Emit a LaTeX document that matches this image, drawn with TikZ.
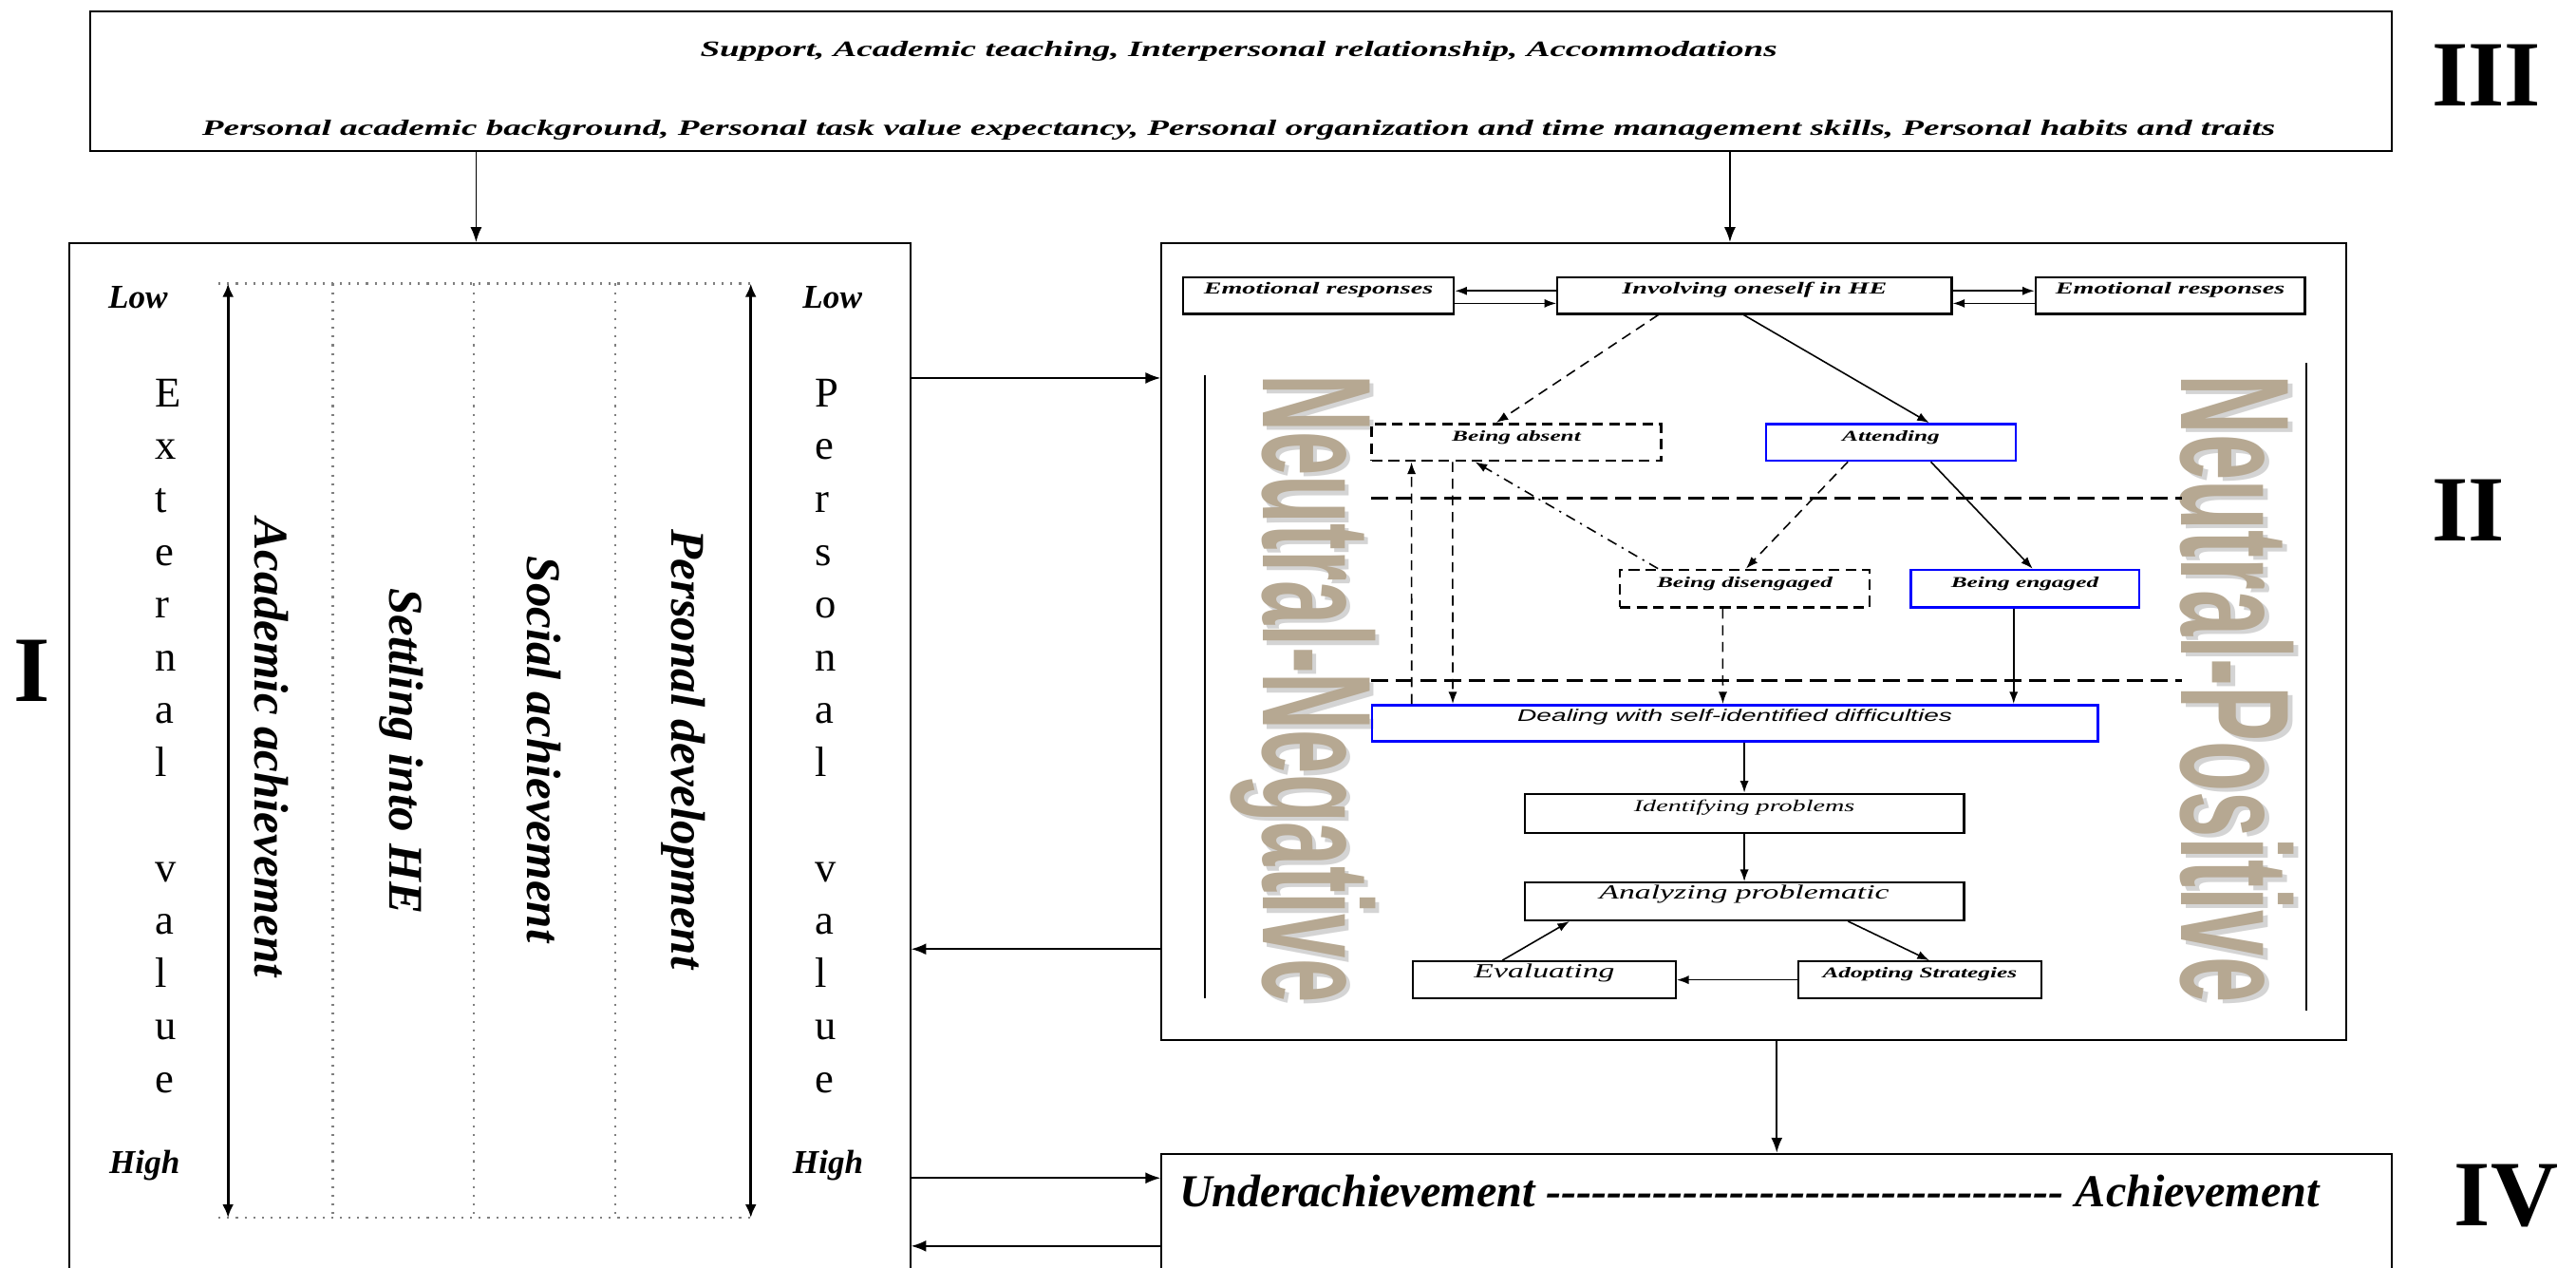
\documentclass[tikz,border=0pt]{standalone}
\usepackage{fontspec}
\setmainfont{Liberation Serif}
\setsansfont{Liberation Sans}
\newfontfamily\wideserif[FakeStretch=1.6]{Liberation Serif}
\newfontfamily\widesans[FakeStretch=1.6]{Liberation Sans}
\usepackage{xcolor}
\usepackage{tikz}
\usetikzlibrary{arrows.meta,calc,fit}

\definecolor{wordtan}{RGB}{182,168,146}
\definecolor{wordshadow}{RGB}{212,212,212}
\newcommand{\dashrun}{\foreach \k in {1,...,34}{-{}}}

\begin{document}
\begin{tikzpicture}[x=0.17302mm, y=-0.17302mm,
    >={Latex[length=4.5pt,width=3.4pt]},
    every node/.style={inner sep=0pt},
    plainbox/.style={draw, line width=0.6pt},
    bluebox/.style={draw=blue, line width=0.7pt},
    dashbox/.style={draw, line width=0.8pt, dash pattern=on 3.2pt off 1.8pt},
    flow/.style={->, line width=0.5pt},
    smallflow/.style={->, line width=0.45pt, >={Latex[length=3.6pt,width=2.6pt]}},
    dashflow/.style={smallflow, dash pattern=on 3pt off 2pt},
    dotdashflow/.style={smallflow, dash pattern=on 3pt off 1.8pt on 0.6pt off 1.8pt},
    sepline/.style={line width=0.8pt, dash pattern=on 5pt off 2.3pt},
    scaleline/.style={<->, line width=0.8pt, >={Latex[length=4pt,width=3.4pt]}},
    factortext/.style={anchor=base, font=\wideserif\bfseries\itshape\fontsize{6.6}{7}\selectfont},
    statetext/.style={font=\wideserif\bfseries\itshape\fontsize{#1}{#1}\selectfont},
    phasetext/.style={font=\wideserif\itshape\fontsize{#1}{#1}\selectfont},
    numeral/.style={anchor=base, font=\bfseries\fontsize{28}{28}\selectfont},
    lowhigh/.style={anchor=base, font=\bfseries\itshape\fontsize{10}{10}\selectfont},
    valueletter/.style={anchor=base west, font=\fontsize{12.7}{12.7}\selectfont},
    rotlabel/.style={rotate=-90, anchor=base, font=\bfseries\itshape\fontsize{14.5}{14.5}\selectfont},
    neutral/.style={rotate=-90, anchor=base, font=\sffamily\bfseries\fontsize{46.5}{46.5}\selectfont}]

    \useasboundingbox (0,0) rectangle (1568,771);
    \clip (0,0) rectangle (1568,771);

    % Factors (III)
    \node (topbox) [plainbox, fit={(55,7) (1456,92)}] {};
    \node (extfactors) [factortext] at (754,34.3) {Support, Academic teaching, Interpersonal relationship, Accommodations};
    \node (persfactors) [factortext] at (754,82.5) {Personal academic background, Personal task value expectancy, Personal organization and time management skills, Personal habits and traits};
    \node (numIII) [numeral] at (1513.5,64.2) {III};

    % Values (I)
    \node (boxI) [plainbox, fit={(42,148) (554,800)}] {};
    \node (numI) [numeral] at (19.6,426.7) {I};
    \draw[gray, dotted, line width=0.6pt] (133,172.5) -- (460.4,172.5);
    \draw[gray, dotted, line width=0.6pt] (133,741) -- (460.4,741);
    \foreach \x in {202.6,288.5,374.6}
        \draw[gray, dotted, line width=0.6pt] (\x,172.5) -- (\x,741);
    \draw[scaleline] (138.8,172.5) -- (138.8,741);
    \draw[scaleline] (457,172.5) -- (457,741);
    \node (lowL) [lowhigh] at (84,187.7) {Low};
    \node (lowR) [lowhigh] at (506.7,187.7) {Low};
    \node (highL) [lowhigh] at (88,714) {High};
    \node (highR) [lowhigh] at (504,714) {High};
    \foreach \ch [count=\i from 0] in {E,x,t,e,r,n,a,l,{},v,a,l,u,e}
        \node (ext\i) [valueletter] at (94,{247.6+32.1*\i}) {\ch};
    \foreach \ch [count=\i from 0] in {P,e,r,s,o,n,a,l,{},v,a,l,u,e}
        \node (pers\i) [valueletter] at (496,{247.6+32.1*\i}) {\ch};
    \node (academic) [rotlabel] at (155,455) {Academic achievement};
    \node (settling) [rotlabel] at (237,457) {Settling into HE};
    \node (social) [rotlabel] at (321,456) {Social achievement};
    \node (personal) [rotlabel] at (409,456) {Personal development};

    % Process (II)
    \node (boxII) [plainbox, fit={(707,148) (1428,633)}] {};
    \node (numII) [numeral] at (1502.5,329.4) {II};
    \node (negshadow) [neutral, xscale=0.509, wordshadow] at (771.3,421.5) {Neutral-Negative};
    \node (negative) [neutral, xscale=0.509, wordtan] at (768.8,419) {Neutral-Negative};
    \node (posshadow) [neutral, xscale=0.531, wordshadow] at (1330.5,421.5) {Neutral-Positive};
    \node (positive) [neutral, xscale=0.531, wordtan] at (1328,419) {Neutral-Positive};
    \draw[line width=0.6pt] (733.5,228) -- (733.5,607.5);
    \draw[line width=0.6pt] (1403.7,221) -- (1403.7,615);
    \draw[sepline] (834.7,302.9) -- (1328,302.9);
    \draw[sepline] (834.7,413.9) -- (1328,413.9);

    \node (emoL) [plainbox, statetext=5, fit={(720,169) (885,191)}] {Emotional responses};
    \node (involve) [plainbox, statetext=5, fit={(948,169) (1188,191)}] {Involving oneself in HE};
    \node (emoR) [plainbox, statetext=5, fit={(1239,169) (1403,191)}] {Emotional responses};
    \node (absent) [dashbox, statetext=4.5, fit={(835,258) (1011,280.3)}] {Being absent};
    \node (attend) [bluebox, statetext=4.5, fit={(1075,258) (1227,280.3)}] {Attending};
    \node (disengaged) [dashbox, statetext=4.5, fit={(986,346.8) (1138,369.5)}] {Being disengaged};
    \node (engaged) [bluebox, statetext=4.5, fit={(1163,346.8) (1302,369.5)}] {Being engaged};
    \node (dealing) [bluebox, font=\widesans\itshape\fontsize{5}{5}\selectfont, fit={(835,429) (1277,451)}] {Dealing with self-identified difficulties};
    \node (identify) [plainbox, phasetext=5, fit={(928,483) (1195.5,507)}] {Identifying problems};
    \node (analyze) [plainbox, phasetext=6, fit={(928,537) (1195.5,560)}] {Analyzing problematic};
    \node (evaluate) [plainbox, phasetext=6, fit={(860,585) (1020,607.5)}] {Evaluating};
    \node (adopt) [plainbox, statetext=4.5, fit={(1094.6,585) (1242.5,607.5)}] {Adopting Strategies};

    \draw[smallflow] ($(involve.west)+(0,-3)$) -- ($(emoL.east)+(0,-3)$);
    \draw[smallflow] ($(emoL.east)+(0,4.6)$) -- ($(involve.west)+(0,4.6)$);
    \draw[smallflow] ($(involve.east)+(0,-3)$) -- ($(emoR.west)+(0,-3)$);
    \draw[smallflow] ($(emoR.west)+(0,4.6)$) -- ($(involve.east)+(0,4.6)$);
    \draw[dashflow] ($(involve.south west)+(62,0)$) -- ($(absent.north west)+(76.5,0)$);
    \draw[smallflow] ($(involve.south west)+(114,0)$) -- ($(attend.north west)+(100,0)$);
    \draw[dashflow] ($(attend.south west)+(50.5,0)$) -- ($(disengaged.north west)+(77.6,0)$);
    \draw[smallflow] ($(attend.south west)+(101,0)$) -- ($(engaged.north west)+(75,0)$);
    \draw[dotdashflow] ($(disengaged.north west)+(24,0)$) -- ($(absent.south west)+(63.7,0)$);
    \draw[dashflow] ($(disengaged.south west)+(63.4,0)$) -- ($(dealing.north west)+(214.4,0)$);
    \draw[smallflow] ($(engaged.south west)+(63.4,0)$) -- ($(dealing.north west)+(391.4,0)$);
    \draw[dashflow] ($(dealing.north west)+(25,0)$) -- ($(absent.south west)+(25,0)$);
    \draw[dashflow] ($(absent.south west)+(50,0)$) -- ($(dealing.north west)+(50,0)$);
    \draw[smallflow] (dealing.south -| identify.north) -- (identify.north);
    \draw[smallflow] (identify) -- (analyze);
    \draw[smallflow] ($(analyze.south west)+(197.5,0)$) -- ($(adopt.north west)+(80.4,0)$);
    \draw[smallflow] (adopt.west) -- (evaluate.east);
    \draw[smallflow] ($(evaluate.north west)+(55,0)$) -- ($(analyze.south west)+(28,0)$);

    % Outcome (IV)
    \node (boxIV) [plainbox, fit={(707,702) (1456,800)}] {};
    \node (numIV) [numeral] at (1525.5,745.7) {IV};
    \node (outcome) [anchor=base west, font=\bfseries\itshape\fontsize{13.7}{13.7}\selectfont] at (717.5,734) {Underachievement \dashrun\ Achievement};

    % Links between the parts
    \coordinate (dropI) at (289.8,0);
    \coordinate (dropII) at (1053,0);
    \coordinate (dropIV) at (1081.5,0);
    \coordinate (rowA) at (0,230);
    \coordinate (rowB) at (0,577.5);
    \coordinate (rowC) at (0,716.8);
    \coordinate (rowD) at (0,758.2);
    \draw[flow] (topbox.south -| dropI) -- (boxI.north -| dropI);
    \draw[flow] (topbox.south -| dropII) -- (boxII.north -| dropII);
    \draw[flow] (boxI.east |- rowA) -- (boxII.west |- rowA);
    \draw[flow] (boxII.west |- rowB) -- (boxI.east |- rowB);
    \draw[flow] (boxII.south -| dropIV) -- (boxIV.north -| dropIV);
    \draw[flow] (boxI.east |- rowC) -- (boxIV.west |- rowC);
    \draw[flow] (boxIV.west |- rowD) -- (boxI.east |- rowD);
\end{tikzpicture}
\end{document}
